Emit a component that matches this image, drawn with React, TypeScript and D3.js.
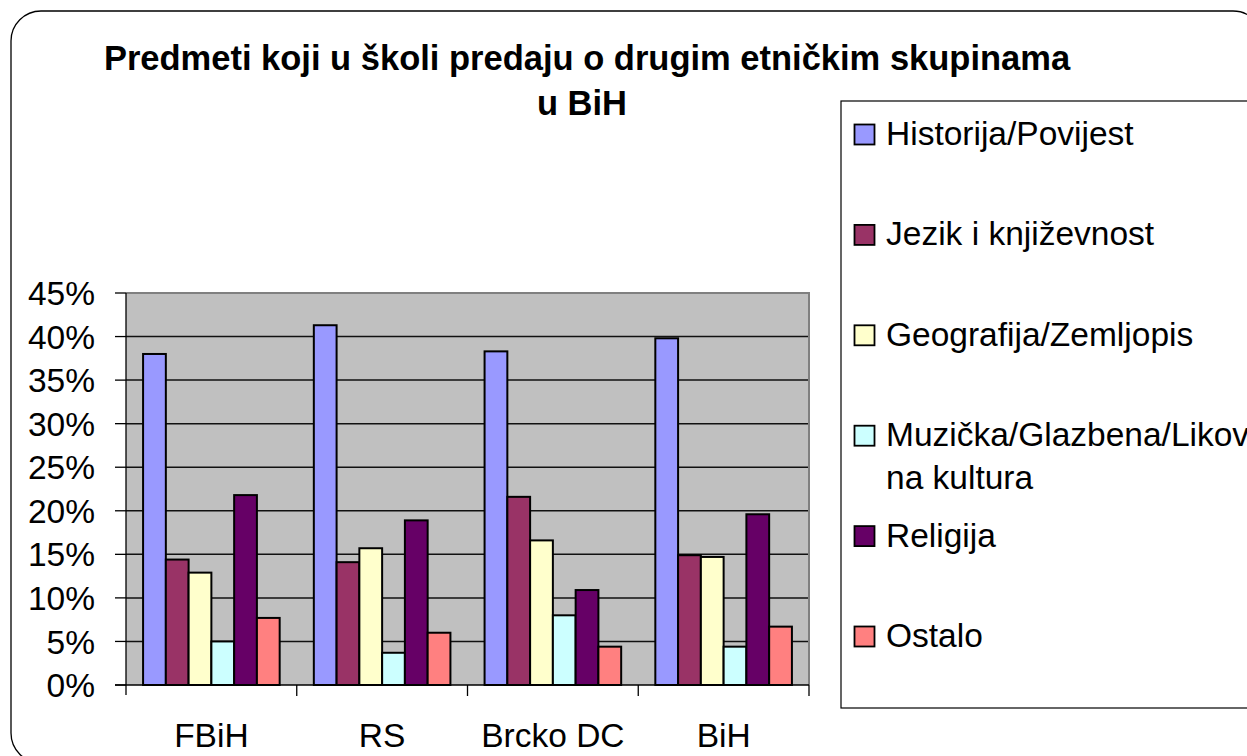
import React from "react";
import * as d3 from "d3";

const categories = ["FBiH", "RS", "Brcko DC", "BiH"];
const seriesNames = [
  "Historija/Povijest",
  "Jezik i književnost",
  "Geografija/Zemljopis",
  "Muzička/Glazbena/Likovna kultura",
  "Religija",
  "Ostalo",
];
const colors = ["#9999FF", "#993366", "#FFFFCC", "#CCFFFF", "#660066", "#FF8080"];
// one array per series, values in the order of categories
const historija = [38.0, 41.3, 38.3, 39.8];
const jezik = [14.4, 14.1, 21.6, 14.9];
const geografija = [12.9, 15.7, 16.6, 14.7];
const muzicka = [5.0, 3.7, 8.0, 4.4];
const religija = [21.8, 18.9, 10.9, 19.6];
const ostalo = [7.7, 6.0, 4.4, 6.7];
const seriesValues = [historija, jezik, geografija, muzicka, religija, ostalo];
const yTicks = [0, 5, 10, 15, 20, 25, 30, 35, 40, 45];

const W = 1247;
const H = 756;
const font = "'Liberation Sans', Arial, sans-serif";

export default function App() {
  const plot = { left: 126, right: 809, top: 293, bottom: 685 };

  const x = d3.scaleBand().domain(categories).range([plot.left, plot.right]).padding(0);
  const xInner = d3
    .scaleBand()
    .domain(seriesNames)
    .range([0, x.bandwidth()])
    .paddingInner(0)
    .paddingOuter(0.75);
  const y = d3.scaleLinear().domain([0, 45]).range([plot.bottom, plot.top]);

  // legend wraps the long label on two lines
  const legendLines = [
    ["Historija/Povijest"],
    ["Jezik i književnost"],
    ["Geografija/Zemljopis"],
    ["Muzička/Glazbena/Likov", "na kultura"],
    ["Religija"],
    ["Ostalo"],
  ];

  return (
    <svg
      width={W}
      height={H}
      style={{ position: "absolute", left: 0, top: 0, display: "block" }}
      fontFamily={font}
    >
      <rect x={0} y={0} width={W} height={H} fill="#fff" />
      <rect x={11} y={11} width={1252} height={752} rx={30} ry={30} fill="#fff" stroke="#000" strokeWidth={1.3} />

      {/* title */}
      <text x={587} y={70} textAnchor="middle" fontSize={34.5} fontWeight="bold">
        Predmeti koji u školi predaju o drugim etničkim skupinama
      </text>
      <text x={582} y={115} textAnchor="middle" fontSize={34.5} fontWeight="bold">
        u BiH
      </text>

      {/* plot area */}
      <rect
        x={plot.left}
        y={plot.top}
        width={plot.right - plot.left}
        height={plot.bottom - plot.top}
        fill="#C0C0C0"
      />
      {yTicks.slice(1, -1).map((t) => (
        <line key={t} x1={plot.left} x2={plot.right} y1={y(t)} y2={y(t)} stroke="#111" strokeWidth={1.5} />
      ))}
      <path
        d={`M${plot.left},${plot.top}H${plot.right}V${plot.bottom}`}
        fill="none"
        stroke="#808080"
        strokeWidth={2}
      />

      {/* bars */}
      {categories.map((c, ci) => (
        <g key={c} transform={`translate(${x(c)},0)`}>
          {seriesNames.map((s, si) => {
            const v = seriesValues[si][ci];
            return (
              <rect
                key={s}
                x={xInner(s)}
                y={y(v)}
                width={xInner.bandwidth()}
                height={y(0) - y(v)}
                fill={colors[si]}
                stroke="#000"
                strokeWidth={2}
              />
            );
          })}
        </g>
      ))}

      {/* y axis */}
      <line x1={plot.left} x2={plot.left} y1={plot.top} y2={plot.bottom + 10} stroke="#000" strokeWidth={1.3} />
      {yTicks.map((t) => (
        <g key={t}>
          <line x1={plot.left - 11} x2={plot.left} y1={y(t)} y2={y(t)} stroke="#000" strokeWidth={1.3} />
          <text x={95} y={y(t)} dy="0.36em" textAnchor="end" fontSize={33.5}>
            {t + "%"}
          </text>
        </g>
      ))}

      {/* x axis */}
      <line x1={plot.left - 11} x2={plot.right} y1={plot.bottom} y2={plot.bottom} stroke="#000" strokeWidth={1.3} />
      {categories.map((c) => (
        <g key={c}>
          <line
            x1={(x(c) as number) + x.bandwidth()}
            x2={(x(c) as number) + x.bandwidth()}
            y1={plot.bottom}
            y2={plot.bottom + 11}
            stroke="#000"
            strokeWidth={1.3}
          />
          <text x={(x(c) as number) + x.bandwidth() / 2} y={747} textAnchor="middle" fontSize={33.5}>
            {c}
          </text>
        </g>
      ))}

      {/* legend */}
      <rect x={841} y={101} width={440} height={607} fill="#fff" stroke="#000" strokeWidth={1.2} />
      {seriesNames.map((s, i) => {
        const base = 145 + i * 100.4;
        return (
          <g key={s}>
            <rect x={854.5} y={base - 20.5} width={20} height={20} fill={colors[i]} stroke="#000" strokeWidth={1.8} />
            {legendLines[i].map((ln, li) => (
              <text key={li} x={886} y={base + li * 43} fontSize={33.5}>
                {ln}
              </text>
            ))}
          </g>
        );
      })}
    </svg>
  );
}
